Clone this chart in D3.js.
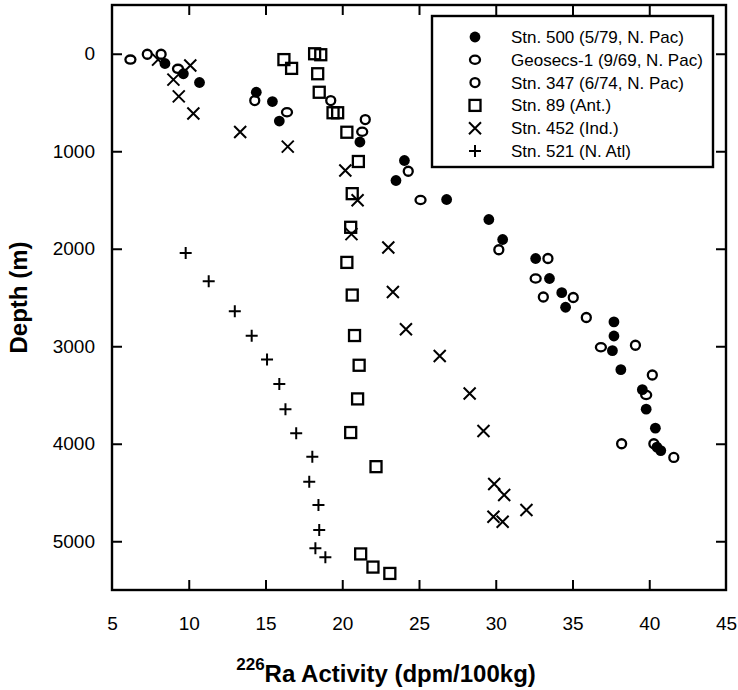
<!DOCTYPE html>
<html><head><meta charset="utf-8">
<script src="https://cdn.jsdelivr.net/npm/d3@7"></script>
<style>body{margin:0;background:#fff}svg{display:block}</style>
</head><body>
<svg id="c" width="738" height="690"></svg>
<script>
// ---- data: [226Ra activity (dpm/100kg), depth (m)] ----
const stn500 = [[8.45,100],[9.65,205],[10.7,295],[14.4,395],[15.45,490],[15.9,690],[21.15,905],[24.05,1095],[23.5,1300],[26.8,1495],[29.55,1700],[30.45,1905],[32.6,2100],[33.5,2305],[34.3,2450],[34.55,2600],[37.7,2750],[37.7,2895],[37.6,3045],[38.15,3240],[39.55,3445],[39.8,3645],[40.4,3840],[40.5,4035],[40.75,4070]];
const geosecs1 = [[6.2,60],[9.3,155],[16.4,600],[21.3,800],[25.1,1500],[32.6,2305],[36.85,3010],[39.8,3500]];
const stn347 = [[7.3,5],[8.2,5],[14.3,480],[19.25,480],[21.5,675],[24.3,1205],[30.2,2010],[33.4,2100],[33.1,2495],[35.05,2500],[35.9,2705],[39.1,2990],[40.2,3295],[38.2,4000],[40.3,4000],[41.6,4140]];
const stn89 = [[16.2,60],[16.7,150],[18.2,0],[18.6,10],[18.4,205],[18.5,395],[19.4,605],[19.7,605],[20.3,805],[21.05,1105],[20.65,1435],[20.55,1780],[20.3,2140],[20.65,2475],[20.8,2890],[21.1,3195],[21.0,3540],[20.55,3885],[22.2,4235],[21.2,5130],[22.0,5265],[23.1,5330]];
const stn452 = [[8.0,60],[10.1,120],[9.0,265],[9.35,437],[10.3,612],[13.35,803],[16.45,953],[20.2,1198],[21.0,1503],[20.6,1850],[23.0,1988],[23.3,2443],[24.15,2825],[26.35,3100],[28.3,3485],[29.2,3870],[29.9,4413],[30.55,4525],[32.0,4680],[29.85,4748],[30.45,4800]];
const stn521 = [[9.8,2043],[11.3,2333],[13.0,2640],[14.1,2893],[15.1,3135],[15.9,3388],[16.3,3645],[17.0,3893],[18.05,4133],[17.85,4389],[18.45,4628],[18.5,4884],[18.25,5072],[18.9,5164]];
const legendLabels = ["Stn. 500 (5/79, N. Pac)","Geosecs-1 (9/69, N. Pac)","Stn. 347 (6/74, N. Pac)","Stn. 89 (Ant.)","Stn. 452 (Ind.)","Stn. 521 (N. Atl)"];
const xTicks = [5,10,15,20,25,30,35,40,45];
const yTicks = [0,1000,2000,3000,4000,5000];
const xLabel = "Ra Activity (dpm/100kg)", xLabelSup = "226", yLabel = "Depth (m)";

const FONT = "'Liberation Sans', Arial, sans-serif";
const svg = d3.select("#c");
const L = 112, R = 726, T = 5, B = 590;
const x = d3.scaleLinear().domain([5,45]).range([L,R]);
const y = d3.scaleLinear().domain([-500,5500]).range([T,B]);

// marker drawers
const markers = {
  filled: (g) => g.append("circle").attr("r",5.4).attr("fill","#000"),
  geo: (g) => g.append("ellipse").attr("rx",5).attr("ry",4.1).attr("fill","#fff").attr("stroke","#000").attr("stroke-width",2.3),
  s347: (g) => g.append("circle").attr("r",4.5).attr("fill","#fff").attr("stroke","#000").attr("stroke-width",2.3),
  square: (g) => g.append("rect").attr("x",-5.5).attr("y",-5.5).attr("width",11).attr("height",11).attr("fill","none").attr("stroke","#000").attr("stroke-width",2.3),
  xmark: (g) => g.append("path").attr("d","M-6,-6L6,6M-6,6L6,-6").attr("stroke","#000").attr("stroke-width",2).attr("fill","none"),
  plus: (g) => g.append("path").attr("d","M-6,0L6,0M0,-6L0,6").attr("stroke","#000").attr("stroke-width",2).attr("fill","none")
};
const series = [
  {data: stn89, m: "square"},
  {data: stn452, m: "xmark"},
  {data: stn521, m: "plus"},
  {data: geosecs1, m: "geo"},
  {data: stn347, m: "s347"},
  {data: stn500, m: "filled"}
];
series.forEach(s => {
  s.data.forEach(d => {
    const g = svg.append("g").attr("transform",`translate(${x(d[0])},${y(d[1])})`);
    markers[s.m](g);
  });
});

// axes (ticks inward on all sides)
const tk = 10;
const axB = svg.append("g").attr("transform",`translate(0,${B})`).call(d3.axisBottom(x).tickValues(xTicks).tickSizeInner(-tk).tickSizeOuter(0).tickPadding(tk+17));
const axT = svg.append("g").attr("transform",`translate(0,${T})`).call(d3.axisTop(x).tickValues(xTicks.slice(1,-1)).tickSizeInner(-tk).tickSizeOuter(0).tickFormat(""));
const axL = svg.append("g").attr("transform",`translate(${L},0)`).call(d3.axisLeft(y).tickValues(yTicks).tickFormat(d3.format("d")).tickSizeInner(-tk).tickSizeOuter(0).tickPadding(tk+7));
const axR = svg.append("g").attr("transform",`translate(${R},0)`).call(d3.axisRight(y).tickValues(yTicks).tickSizeInner(-tk).tickSizeOuter(0).tickFormat(""));
[axB,axT,axL,axR].forEach(a => {
  a.select(".domain").remove();
  a.selectAll(".tick line").attr("stroke","#000").attr("stroke-width",2);
  a.selectAll(".tick text").attr("fill","#000").style("font-family",FONT).style("font-size","19px");
});
axB.selectAll(".tick line").filter(d => d===5 || d===45).remove();
// frame
svg.append("rect").attr("x",L).attr("y",T).attr("width",R-L).attr("height",B-T).attr("fill","none").attr("stroke","#000").attr("stroke-width",2.4);

// legend
const lg = svg.append("g");
lg.append("rect").attr("x",432).attr("y",16).attr("width",281).attr("height",151).attr("fill","#fff").attr("stroke","#000").attr("stroke-width",2.4);
const lm = ["filled","geo","s347","square","xmark","plus"];
legendLabels.forEach((t,i) => {
  const yy = 37 + i*22.8;
  const g = lg.append("g").attr("transform",`translate(475,${yy})`);
  markers[lm[i]](g);
  lg.append("text").attr("x",511).attr("y",yy+6).text(t).style("font-family",FONT).style("font-size","17px").attr("fill","#000");
});

// axis titles
const xt = svg.append("text").attr("x",386).attr("y",682).attr("text-anchor","middle").style("font-family",FONT).style("font-weight","bold").attr("fill","#000");
xt.append("tspan").text(xLabelSup).style("font-size","17px").attr("dy",-12);
xt.append("tspan").text(xLabel).style("font-size","24px").attr("dy",12);
svg.append("text").attr("transform",`translate(27,${(T+B)/2}) rotate(-90)`).attr("text-anchor","middle").text(yLabel).style("font-family",FONT).style("font-weight","bold").style("font-size","24px").attr("fill","#000");
</script>
</body></html>
